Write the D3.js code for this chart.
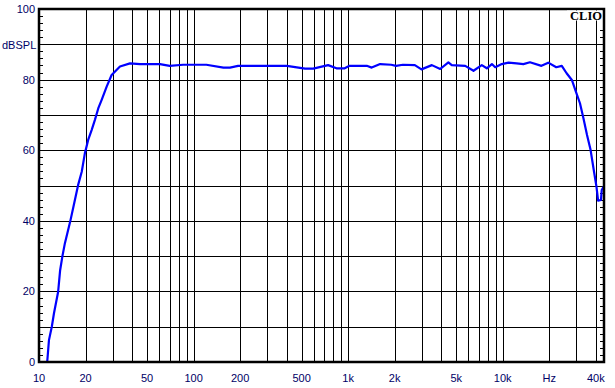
<!DOCTYPE html>
<html>
<head>
<meta charset="utf-8">
<script src="https://cdn.jsdelivr.net/npm/d3@7"></script>
<style>
  body { margin: 0; background: #fff; }
  svg { display: block; }
  text { font-family: Arial, "Liberation Sans", sans-serif; font-size: 11px; fill: #000066; }
</style>
</head>
<body>
<svg id="chart"></svg>
<script>
// Tần số (Hz) và mức (dBSPL)
const freqs = [11.3, 11.6, 12.1, 12.5, 13.3, 13.7, 14.15, 14.7, 15.9, 16.7, 17.9, 18.9, 19.8, 20.8, 21.9, 23.0, 24.2, 25.4, 27.4, 29.5, 33.4, 38.8, 45, 60.6, 70.1, 85.6, 121, 156, 172, 194, 268, 401, 527, 594, 742, 840, 950, 1020, 1190, 1320, 1420, 1610, 1900, 2040, 2260, 2700, 2980, 3480, 3940, 4450, 4680, 5720, 6470, 7320, 7890, 8510, 8940, 9860, 10900, 12300, 13600, 15000, 17800, 19700, 22200, 24100, 25900, 28000, 30000, 31600, 33300, 35100, 37000, 38800, 40400, 41400, 43200, 43700, 45000];
const levels = [0, 6.2, 10, 13.8, 19.9, 26, 29.8, 33.6, 39.7, 44, 50.1, 53.9, 59.1, 62.9, 65.7, 68.6, 71.9, 74.2, 78.0, 81.3, 83.7, 84.6, 84.4, 84.4, 83.9, 84.2, 84.2, 83.4, 83.4, 83.9, 83.9, 83.9, 83.1, 83.1, 84.1, 83.2, 83.2, 83.9, 83.9, 83.9, 83.4, 84.4, 84.2, 83.9, 84.2, 84.1, 82.9, 84.1, 83.0, 84.9, 84.1, 83.9, 82.5, 84.1, 83.2, 84.4, 83.5, 84.4, 84.8, 84.6, 84.4, 84.9, 83.9, 84.8, 83.5, 83.9, 81.8, 79.9, 76.1, 73.3, 69.0, 64.3, 60.1, 54.4, 49.7, 45.7, 45.9, 48.7, 49.7];

// Lưới và nhãn trục
const xGridValues = [20, 30, 40, 50, 60, 70, 80, 90, 100, 200, 300, 400, 500, 600, 700, 800, 900,
  1000, 2000, 3000, 4000, 5000, 6000, 7000, 8000, 9000, 10000, 20000, 30000, 40000];
const xLabelValues = [10, 20, 50, 100, 200, 500, 1000, 2000, 5000, 10000, 20000, 40000];
const xLabelTexts = ["10", "20", "50", "100", "200", "500", "1k", "2k", "5k", "10k", "Hz", "40k"];
const yGridValues = [10, 20, 30, 40, 50, 60, 70, 80, 90];
const yLabelValues = [0, 20, 40, 60, 80, 100];
const yMinorValues = d3.range(0, 101, 2);

const width = 615, height = 388;
const plotLeft = 39, plotRight = 604, plotTop = 9, plotBottom = 362;

const svg = d3.select("#chart").attr("width", width).attr("height", height);

const xScale = d3.scaleLog().domain([10, 45200]).range([plotLeft, plotRight]);
const yScale = d3.scaleLinear().domain([0, 100]).range([plotBottom, plotTop]);

// Lưới dọc
svg.append("g").selectAll("line")
  .data(xGridValues)
  .enter().append("line")
  .attr("x1", d => Math.round(xScale(d)) + 0.5)
  .attr("x2", d => Math.round(xScale(d)) + 0.5)
  .attr("y1", plotTop).attr("y2", plotBottom)
  .attr("stroke", "#000").attr("stroke-width", 1);

// Lưới ngang
svg.append("g").selectAll("line")
  .data(yGridValues)
  .enter().append("line")
  .attr("x1", plotLeft).attr("x2", plotRight)
  .attr("y1", d => Math.round(yScale(d)) + 0.5)
  .attr("y2", d => Math.round(yScale(d)) + 0.5)
  .attr("stroke", "#000").attr("stroke-width", 1);

// Vạch nhỏ trên trục trái và phải
const minor = svg.append("g");
minor.selectAll(".tl")
  .data(yMinorValues)
  .enter().append("line")
  .attr("x1", plotLeft).attr("x2", plotLeft + 4)
  .attr("y1", d => Math.round(yScale(d)) + 0.5)
  .attr("y2", d => Math.round(yScale(d)) + 0.5)
  .attr("stroke", "#000");
minor.selectAll(".tr")
  .data(yMinorValues.filter(d => d < 96))
  .enter().append("line")
  .attr("x1", plotRight - 4).attr("x2", plotRight)
  .attr("y1", d => Math.round(yScale(d)) + 0.5)
  .attr("y2", d => Math.round(yScale(d)) + 0.5)
  .attr("stroke", "#000");

// Đường đáp tuyến
const line = d3.line()
  .x((d, i) => xScale(freqs[i]))
  .y(d => yScale(d));

svg.append("path")
  .datum(levels)
  .attr("d", line)
  .attr("fill", "none")
  .attr("stroke", "#0000ff")
  .attr("stroke-width", 2.2)
  .attr("stroke-linejoin", "round");

// Khung
svg.append("rect")
  .attr("x", plotLeft).attr("y", plotTop)
  .attr("width", plotRight - plotLeft).attr("height", plotBottom - plotTop)
  .attr("fill", "none")
  .attr("stroke", "#000")
  .attr("stroke-width", 2.5);

// Hộp CLIO
svg.append("rect")
  .attr("x", 567).attr("y", 10.5)
  .attr("width", 35).attr("height", 10)
  .attr("fill", "#fff");
svg.append("text")
  .attr("x", 602).attr("y", 19.5)
  .attr("text-anchor", "end")
  .style("font-family", "'Liberation Serif', 'DejaVu Serif', serif")
  .style("font-weight", "bold")
  .style("font-size", "12.5px")
  .style("fill", "#000")
  .text("CLIO");

// Nhãn trục Y
svg.append("g").selectAll("text")
  .data(yLabelValues)
  .enter().append("text")
  .attr("x", plotLeft - 4)
  .attr("y", d => yScale(d) + 4)
  .attr("text-anchor", "end")
  .text(d => d);

svg.append("text")
  .attr("x", 2).attr("y", 49)
  .text("dBSPL");

// Nhãn trục X
svg.append("g").selectAll("text")
  .data(xLabelValues)
  .enter().append("text")
  .attr("x", d => xScale(d))
  .attr("y", 382)
  .attr("text-anchor", "middle")
  .text((d, i) => xLabelTexts[i]);
</script>
</body>
</html>
